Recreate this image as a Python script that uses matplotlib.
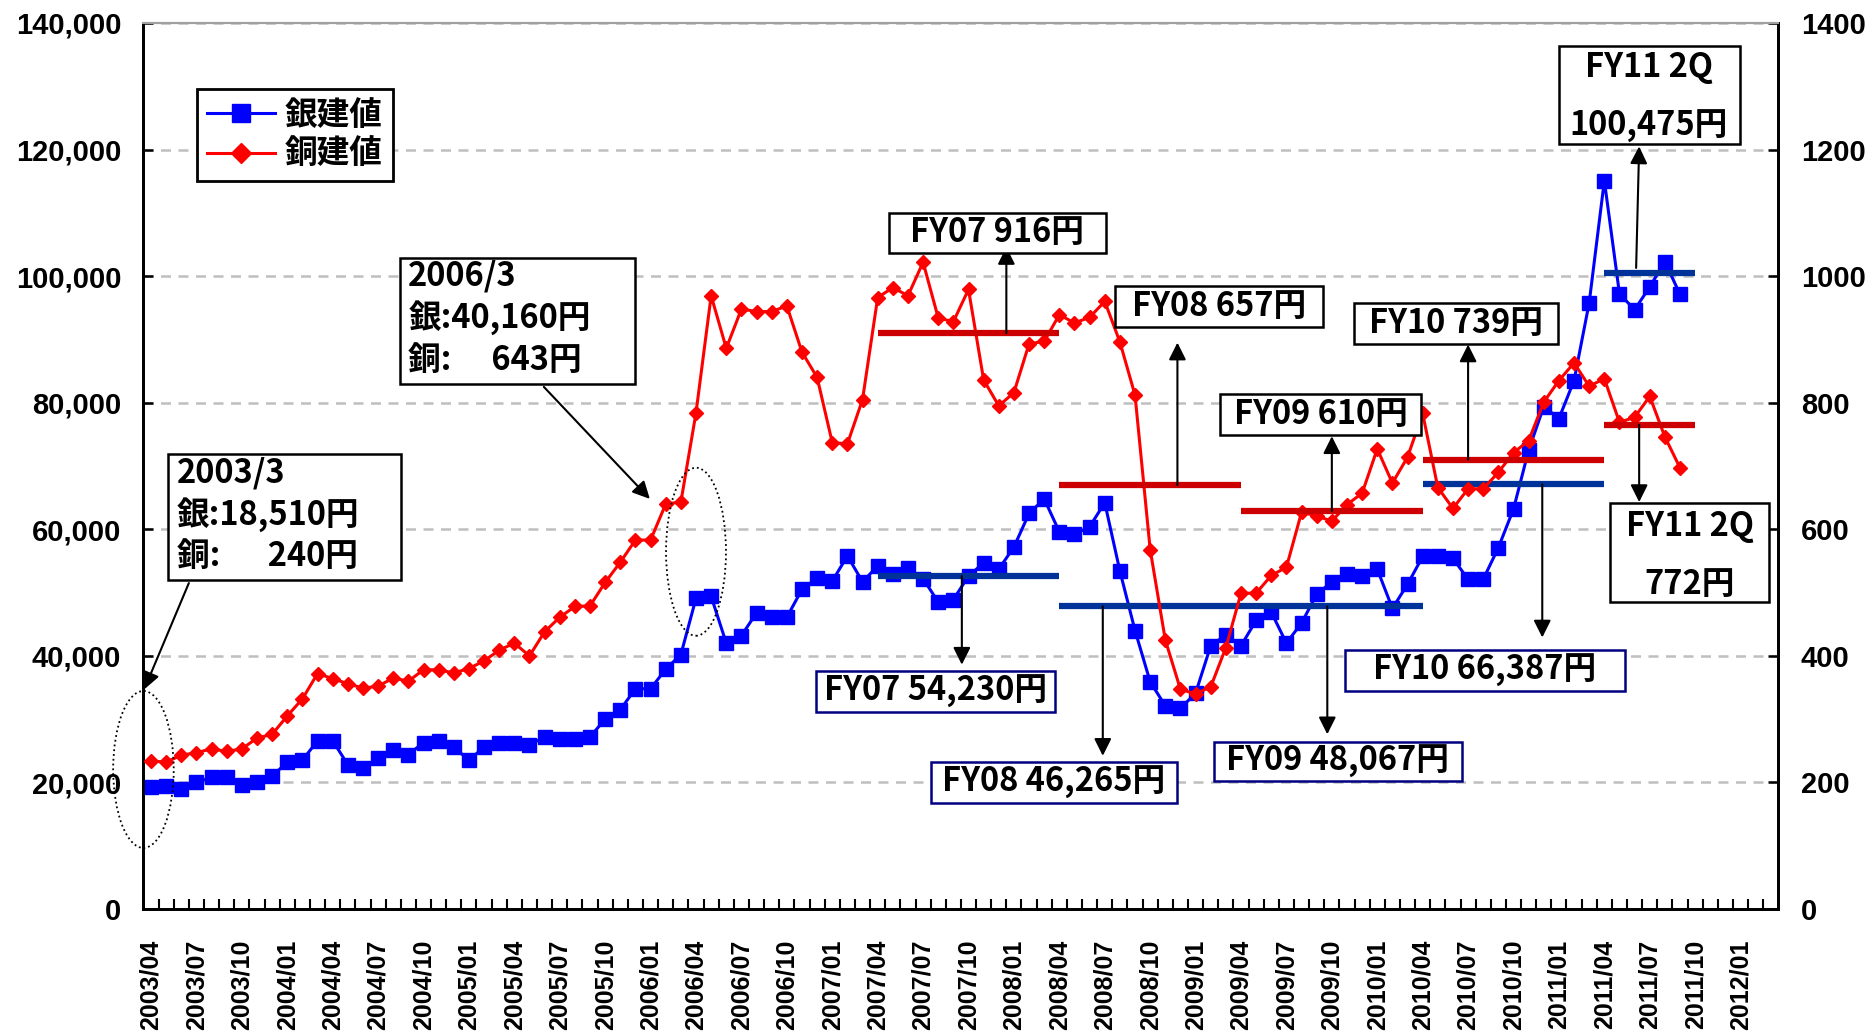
import matplotlib
matplotlib.use("Agg")
import matplotlib.pyplot as plt
from matplotlib.patches import Rectangle, Ellipse
from matplotlib.ticker import FuncFormatter

CJK = ["Noto Sans CJK JP", "DejaVu Sans"]

# 月次カテゴリ (2003/04 - 2012/03)
months = []
for k in range(108):
    yy = 2003 + (3 + k) // 12
    mm = (3 + k) % 12 + 1
    months.append(f"{yy}/{mm:02d}")

# 銀建値 (円/kg) 2003/04 - 2011/09
silver = [19200, 19500, 18900, 20000, 20800, 20800, 19600, 20000, 21000, 23200,
          23500, 26600, 26600, 22800, 22300, 23900, 25100, 24400, 26300, 26600,
          25600, 23500, 25600, 26300, 26300, 25900, 27200, 26800, 26800, 27200,
          30000, 31500, 34800, 34800, 37900, 40200, 49100, 49400, 42000, 43200,
          46800, 46100, 46100, 50500, 52300, 51800, 55800, 51700, 54200, 53000,
          53900, 52200, 48500, 48900, 52600, 54700, 53700, 57200, 62500, 64800,
          59600, 59200, 60400, 64200, 53400, 44000, 35900, 32100, 31700, 34100,
          41600, 43300, 41600, 45600, 46900, 42000, 45200, 49700, 51700, 53000,
          52600, 53700, 47500, 51300, 55700, 55700, 55400, 52100, 52100, 57100,
          63200, 72500, 79400, 77500, 83500, 95800, 115100, 97200, 94700, 98300,
          102300, 97100]

# 銅建値 (円/kg)
copper = [234, 232, 243, 247, 253, 249, 253, 270, 276, 305,
          332, 372, 364, 356, 349, 352, 365, 360, 378, 378,
          373, 380, 392, 409, 420, 400, 438, 461, 478, 479,
          516, 548, 583, 583, 640, 643, 784, 969, 886, 948,
          944, 944, 953, 880, 840, 737, 735, 805, 966, 982,
          969, 1022, 934, 928, 979, 836, 795, 816, 893, 897,
          939, 926, 935, 960, 896, 812, 568, 425, 347, 340,
          351, 413, 499, 499, 527, 540, 627, 621, 613, 639,
          657, 727, 673, 714, 783, 666, 633, 664, 664, 690,
          721, 740, 801, 835, 863, 826, 838, 769, 777, 810,
          746, 697]

# 期間平均線
fy_start = [48, 60, 72, 84, 96]
fy_end = [60, 72, 84, 96, 102]
copper_avg = [910, 670, 629, 710, 765]
silver_avg = [52600, 47800, 47800, 67100, 100500]

fig = plt.figure(figsize=(18.75, 10.36), dpi=100)
ax = fig.add_axes([0.0765, 0.1226, 0.872, 0.8552])
ax2 = ax.twinx()

x = list(range(len(silver)))
l1, = ax.plot(x, silver, color="#0000FF", lw=2.2, marker="s", ms=9.5, zorder=3)
l2, = ax2.plot(x[:len(copper)], copper, color="#FF0000", lw=2.2, marker="D", ms=7.6, zorder=3)

ax.set_xlim(-0.5, 107.5)
ax.set_ylim(0, 140000)
ax2.set_ylim(0, 1400)

ax.set_yticks(range(0, 140001, 20000))
ax.yaxis.set_major_formatter(FuncFormatter(lambda v, p: f"{int(v):,}"))
ax2.set_yticks(range(0, 1401, 200))
for a in (ax, ax2):
    a.tick_params(axis="y", direction="in", length=7, width=1.8, pad=16, labelsize=21)
    for lab in a.get_yticklabels():
        lab.set_family("Liberation Sans")
        lab.set_weight("bold")

ax.set_xticks(range(0, 108, 3))
ax.set_xticklabels(months[::3], rotation=90, family="Liberation Sans", fontsize=18,
                   weight="bold")
ax.set_xticks([k + 0.5 for k in range(107)], minor=True)
ax.tick_params(axis="x", which="major", length=0, pad=22)
ax.tick_params(axis="x", which="minor", direction="in", length=7, width=1.5)

ax.yaxis.grid(True, color="#BFBFBF", ls=(0, (4, 3)), lw=1.8)
ax.set_axisbelow(True)
for a in (ax, ax2):
    for s in ("left", "right", "bottom"):
        a.spines[s].set_linewidth(2)
    a.spines["top"].set_color("#A0A0A0")
    a.spines["top"].set_linewidth(1.5)

# 平均線
for s0, s1, c, sv in zip(fy_start, fy_end, copper_avg, silver_avg):
    ax2.plot([s0, s1], [c, c], color="#CC0000", lw=4.5, solid_capstyle="butt", zorder=4)
    ax.plot([s0, s1], [sv, sv], color="#003399", lw=4.5, solid_capstyle="butt", zorder=4)

T = ax.transData


def box(x0, x1, ytop, ybot, edge="black"):
    r = Rectangle((x0, ybot), x1 - x0, ytop - ybot, transform=T, facecolor="white",
                  edgecolor=edge, lw=1.8, zorder=6)
    ax2.add_patch(r)


def txt(xx, yy, s, ha="center"):
    ax2.text(xx, yy, s, transform=T, ha=ha, va="center", fontsize=23.5,
             family=CJK, weight="bold", zorder=7)


def arrow(xs, ys, xe, ye):
    ax2.annotate("", xy=(xe, ye), xytext=(xs, ys), xycoords=T, textcoords=T,
                 arrowprops=dict(arrowstyle="-|>", color="black", lw=1.5,
                                 mutation_scale=26, shrinkA=0, shrinkB=0), zorder=5)


def ellipse(xc, yc, w, h):
    e = Ellipse((xc, yc), w, h, transform=T, fill=False, ls=":", lw=1.3,
                edgecolor="black", zorder=5, clip_on=False)
    ax2.add_patch(e)


# 2003/3
box(1.1, 16.5, 71900, 52000)
txt(1.7, 68900, "2003/3", ha="left")
txt(1.7, 62300, "銀:18,510円", ha="left")
txt(1.7, 55650, "銅:　  240円", ha="left")
arrow(2.5, 51500, -0.45, 34700)
ellipse(-0.5, 22050, 4.0, 24800)

# 2006/3
box(16.45, 32.0, 102900, 83000)
txt(17.0, 100080, "2006/3", ha="left")
txt(17.0, 93440, "銀:40,160円", ha="left")
txt(17.0, 86640, "銅:　 643円", ha="left")
arrow(25.95, 82500, 32.95, 64800)
ellipse(36.0, 56450, 3.96, 26550)

# 銅 平均
box(48.75, 63.05, 110000, 103700)
txt(55.9, 106850, "FY07 916円")
arrow(56.5, 91000, 56.5, 104600)

box(63.7, 77.4, 98500, 92000)
txt(70.55, 95250, "FY08 657円")
arrow(67.8, 67000, 67.8, 89500)

box(70.6, 83.9, 81300, 74900)
txt(77.25, 78100, "FY09 610円")
arrow(78.0, 62900, 78.0, 74700)

box(79.45, 92.95, 95800, 89300)
txt(86.2, 92550, "FY10 739円")
arrow(87.0, 71000, 87.0, 89200)

box(96.4, 106.9, 64100, 48550)
txt(101.65, 60400, "FY11 2Q")
txt(101.65, 51200, "772円")
arrow(98.3, 76500, 98.3, 64300)

# 銀 平均
navy = "#000080"
box(43.9, 59.7, 37600, 31150, navy)
txt(51.8, 34375, "FY07 54,230円")
arrow(53.56, 52600, 53.56, 38600)

box(51.5, 67.8, 23250, 16750, navy)
txt(59.65, 20000, "FY08 46,265円")
arrow(62.87, 47800, 62.87, 24200)

box(70.2, 86.6, 26400, 20250, navy)
txt(78.4, 23325, "FY09 48,067円")
arrow(77.7, 47800, 77.7, 27600)

box(78.9, 97.35, 40850, 34450, navy)
txt(88.1, 37650, "FY10 66,387円")
arrow(91.9, 67100, 91.9, 42900)

box(93.0, 104.95, 136400, 120950)
txt(98.95, 132960, "FY11 2Q")
txt(98.95, 123630, "100,475円")
arrow(98.1, 101300, 98.3, 120500)

leg = ax2.legend([l1, l2], ["銀建値", "銅建値"], loc="upper left",
                 bbox_to_anchor=(0.0327, 0.9255), borderaxespad=0,
                 prop={"family": CJK, "weight": "bold", "size": 23.5},
                 handlelength=2.1, handletextpad=0.3, borderpad=0.3, labelspacing=0.2,
                 markerscale=1.3, fancybox=False, framealpha=1, edgecolor="black")
leg.get_frame().set_linewidth(2)
leg.set_zorder(8)

fig.savefig("out.png", dpi=100)
